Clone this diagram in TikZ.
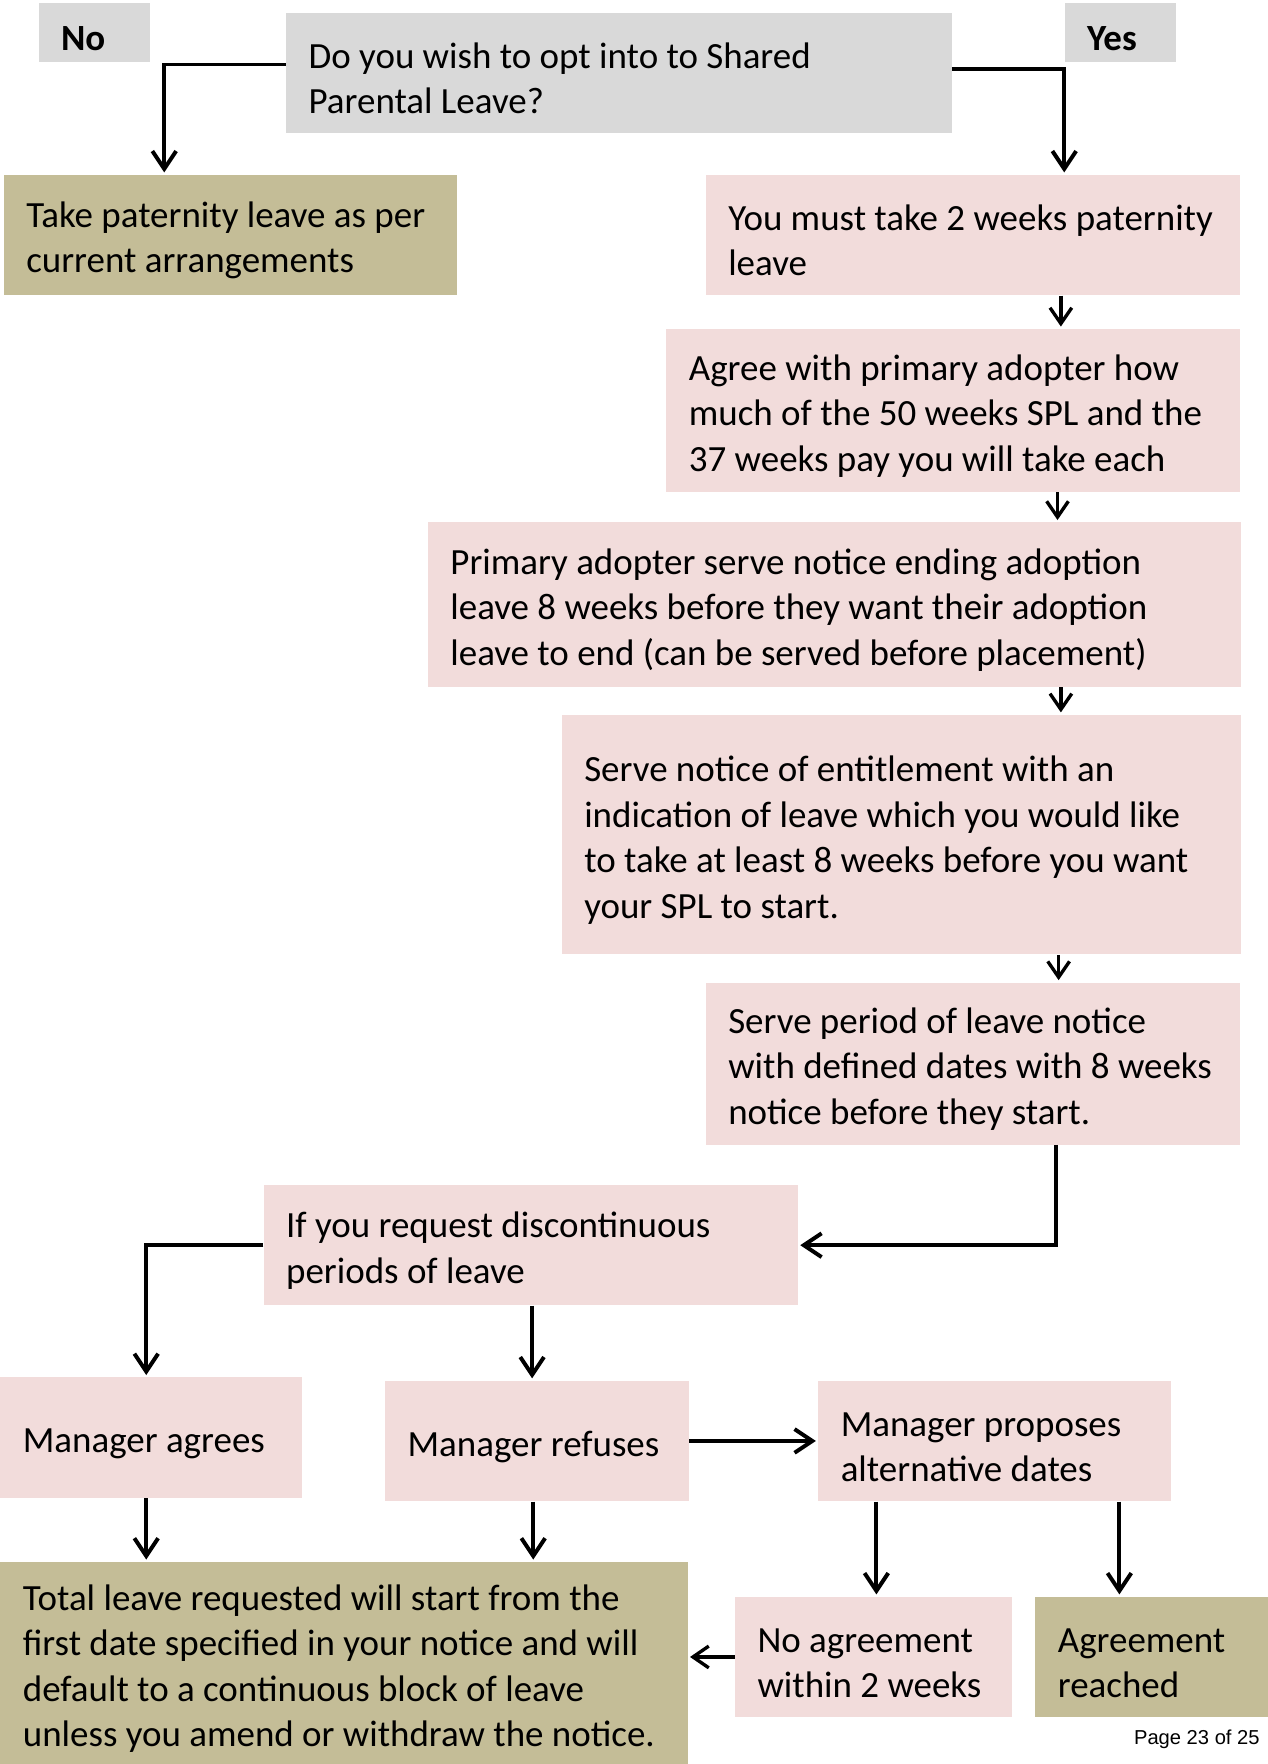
\documentclass[tikz,border=0pt]{standalone}
\usepackage{fontspec}
\setmainfont{Carlito}
\newfontfamily\pagefont{Liberation Sans}
\usepackage{xcolor}
\usetikzlibrary{arrows.meta}
\definecolor{greyfill}{HTML}{D9D9D9}
\definecolor{pinkfill}{HTML}{F2DCDB}
\definecolor{tanfill}{HTML}{C4BD97}
\begin{document}
\begin{tikzpicture}[
    x=0.02cm, y=-0.02cm,
    box/.style={
        rectangle,
        anchor=north west,
        inner xsep=0.4cm,
        inner ysep=0pt,
        align=flush left,
        font=\fontsize{18.7}{23}\selectfont,
        execute at begin node={\rule{0pt}{18.5pt}}  % text sits a bit low in its box
    },
    greybox/.style={box, fill=greyfill},
    pinkbox/.style={box, fill=pinkfill},
    tanbox/.style={box, fill=tanfill},
    answer/.style={greybox, text width=1.18cm, minimum height=1.06cm,
        font=\fontsize{18.7}{23}\selectfont\bfseries},
    arr/.style={line width=2pt, shorten >=1pt,
        -{Straight Barb[length=9pt,width=12pt,line width=2pt]}},
    shortarr/.style={line width=1.7pt, shorten >=1pt,
        -{Straight Barb[length=8pt,width=11pt,line width=1.7pt]}}
]
    \useasboundingbox (0,0) rectangle (1127,1568);

    % question and answers
    \node[answer] (no) at (34,2) {No};
    \node[greybox, text width=11.04cm, minimum height=2.14cm] (question) at (254,11) {Do you wish to opt into to Shared\\Parental Leave?};
    \node[answer] (yes) at (946,2) {Yes};

    % right hand column
    \node[tanbox, text width=7.26cm, minimum height=2.14cm] (take) at (3,155) {Take paternity leave as per\\current arrangements};
    \node[pinkbox, text width=8.7cm, minimum height=2.14cm] (must) at (627,155) {You must take 2 weeks paternity\\leave};
    \node[pinkbox, text width=9.4cm, minimum height=2.9cm] (agree) at (592,292) {Agree with primary adopter how\\much of the 50 weeks SPL and the\\37 weeks pay you will take each};
    \node[pinkbox, text width=13.66cm, minimum height=2.92cm] (primary) at (380,464) {Primary adopter serve notice ending adoption\\leave 8 weeks before they want their adoption\\leave to end (can be served before placement)};
    \node[pinkbox, text width=11.28cm, minimum height=4.26cm] (notice) at (499,635) {Serve notice of entitlement with an\\indication of leave which you would like\\to take at least 8 weeks before you want\\your SPL to start.};
    \node[pinkbox, text width=8.7cm, minimum height=2.88cm] (period) at (627,873) {Serve period of leave notice\\with defined dates with 8 weeks\\notice before they start.};

    % discontinuous leave
    \node[pinkbox, text width=8.7cm, minimum height=2.14cm] (request) at (234,1053) {If you request discontinuous\\periods of leave};
    \node[pinkbox, text width=4.56cm, minimum height=2.14cm] (agrees) at (0,1224) {Manager agrees};
    \node[pinkbox, text width=4.6cm, minimum height=2.14cm] (refuses) at (342,1227) {Manager refuses};
    \node[pinkbox, text width=5.48cm, minimum height=2.14cm] (proposes) at (727,1227) {Manager proposes\\alternative dates};
    \node[tanbox, text width=11.42cm, minimum height=3.6cm] (total) at (0,1388) {Total leave requested will start from the\\first date specified in your notice and will\\default to a continuous block of leave\\unless you amend or withdraw the notice.};
    \node[pinkbox, text width=4.12cm, minimum height=2.14cm] (noagree) at (653,1419) {No agreement\\within 2 weeks};
    \node[tanbox, text width=3.34cm, minimum height=2.14cm] (reached) at (920,1419) {Agreement\\reached};

    \node[anchor=base east, inner sep=0pt, font=\pagefont\fontsize{10.2}{12}\selectfont] (page) at (1120,1551) {Page 23 of 25};

    % connectors
    \draw[arr] ([shift={(0,-7.5)}]question.west) -| ([shift={(143,0)}]take.north west);
    \draw[arr] ([shift={(0,-3.5)}]question.east) -| ([shift={(319,0)}]must.north west);
    \draw[shortarr] ([shift={(316,0)}]must.south west) -- ([shift={(351,0)}]agree.north west);
    \draw[shortarr] ([shift={(348,0)}]agree.south west) -- ([shift={(560,0)}]primary.north west);
    \draw[shortarr] ([shift={(563,0)}]primary.south west) -- ([shift={(444,0)}]notice.north west);
    \draw[shortarr] ([shift={(442,0)}]notice.south west) -- ([shift={(314,0)}]period.north west);
    \draw[arr] ([shift={(312,0)}]period.south west) |- (request.east);
    \draw[arr] (request.west) -| ([shift={(130,0)}]agrees.north west);
    \draw[arr] ([shift={(239,0)}]request.south west) -- ([shift={(131,0)}]refuses.north west);
    \draw[arr] (refuses.east) -- (proposes.west);
    \draw[arr] ([shift={(130,0)}]agrees.south west) -- ([shift={(130,0)}]total.north west);
    \draw[arr] ([shift={(132,0)}]refuses.south west) -- ([shift={(474,0)}]total.north west);
    \draw[arr] ([shift={(52,0)}]proposes.south west) -- ([shift={(126,0)}]noagree.north west);
    \draw[arr] ([shift={(268,0)}]proposes.south west) -- ([shift={(75,0)}]reached.north west);
    \draw[shortarr] (noagree.west) -- (noagree.west -| total.east);
\end{tikzpicture}
\end{document}
